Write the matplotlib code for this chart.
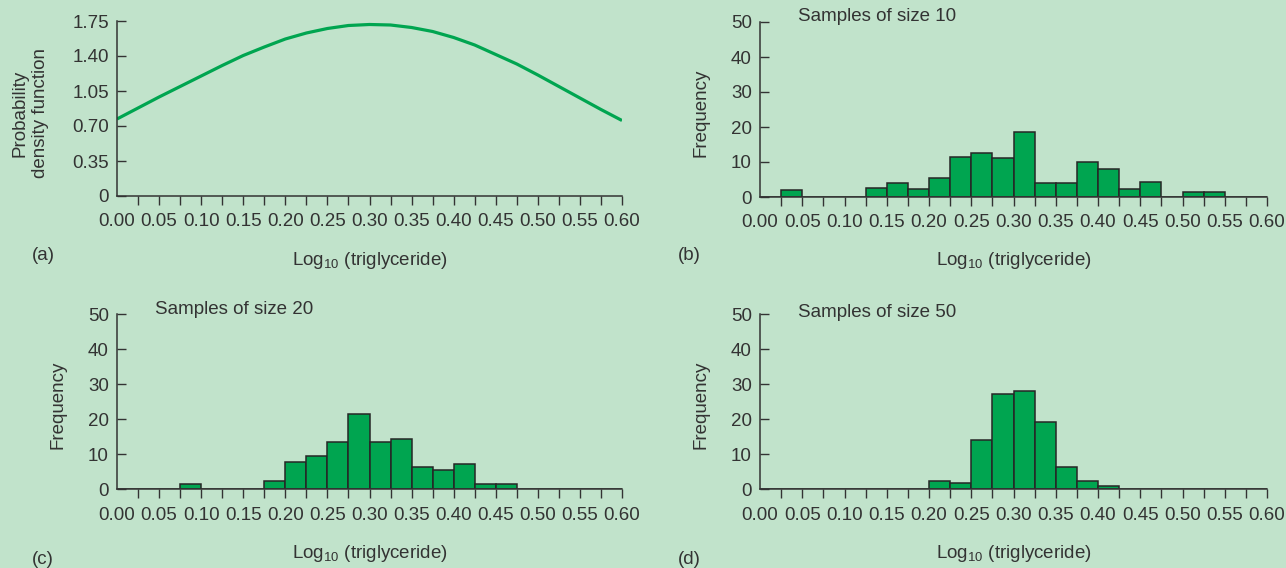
import numpy as np
import matplotlib
matplotlib.use("Agg")
import matplotlib.pyplot as plt

plt.rcParams['font.family'] = ['Liberation Sans', 'DejaVu Sans']
plt.rcParams['mathtext.fontset'] = 'custom'
plt.rcParams['mathtext.rm'] = 'Liberation Sans'
plt.rcParams['mathtext.it'] = 'Liberation Sans:italic'

# Крива щільності (a)
pdf_x = [0.000, 0.025, 0.050, 0.075, 0.100, 0.125, 0.150, 0.175, 0.200, 0.225, 0.250, 0.275, 0.300,
         0.325, 0.350, 0.375, 0.400, 0.425, 0.450, 0.475, 0.500, 0.525, 0.550, 0.575, 0.600]
pdf_y = [0.77, 0.88, 0.99, 1.095, 1.20, 1.305, 1.405, 1.49, 1.57, 1.63, 1.675, 1.705, 1.715,
         1.71, 1.685, 1.645, 1.585, 1.51, 1.415, 1.32, 1.21, 1.095, 0.98, 0.865, 0.755]

# Гістограми: ширина класу 0.025, від 0.00 до 0.60
bin_edges = np.arange(0, 0.6001, 0.025)
freq_10 = [0, 1.9, 0, 0, 0, 2.5, 4.0, 2.3, 5.4, 11.3, 12.5, 11.2, 18.5, 4.0, 4.0, 10.0,
           8.1, 2.3, 4.2, 0, 1.3, 1.3, 0, 0]
freq_20 = [0, 0, 0, 1.6, 0, 0, 0, 2.3, 7.8, 9.6, 13.5, 21.4, 13.5, 14.5, 6.4, 5.5,
           7.2, 1.6, 1.6, 0, 0, 0, 0, 0]
freq_50 = [0, 0, 0, 0, 0, 0, 0, 0, 2.5, 1.7, 14.2, 27.2, 28.2, 19.1, 6.4, 2.4,
           1.0, 0, 0, 0, 0, 0, 0, 0]

x_major = np.arange(0, 0.6001, 0.05)
x_minor = np.arange(0.025, 0.6001, 0.05)
x_labels = ['%.2f' % v for v in x_major]
pdf_ticks = [0, 0.35, 0.70, 1.05, 1.40, 1.75]
pdf_labels = ['0', '0.35', '0.70', '1.05', '1.40', '1.75']
freq_ticks = [0, 10, 20, 30, 40, 50]

bg = '#c1e3cb'
green = '#00a550'
dark = '#333333'
fs = 13.5

fig = plt.figure(figsize=(12.86, 5.68), dpi=100, facecolor=bg)
H = 568.0
W = 1286.0


def make_ax(left, bottom_px, width):
    return fig.add_axes([left / W, (H - bottom_px) / H, width / W, 175 / H], facecolor=bg)


def style(ax):
    for s in ['top', 'right']:
        ax.spines[s].set_visible(False)
    for s in ['left', 'bottom']:
        ax.spines[s].set_color(dark)
        ax.spines[s].set_linewidth(1.1)
    ax.set_xlim(0, 0.6)
    ax.set_xticks(x_major)
    ax.set_xticklabels(x_labels)
    ax.set_xticks(x_minor, minor=True)
    ax.tick_params(axis='x', which='both', direction='out', length=6.5, width=1.0,
                   color=dark, labelsize=fs, labelcolor=dark, pad=6)
    ax.tick_params(axis='y', direction='in', length=6.2, width=1.0, color=dark,
                   labelsize=fs, labelcolor=dark, pad=5.8)
    ax.xaxis.get_major_ticks()[0].tick1line.set_visible(False)
    ax.set_xlabel(r'Log$_{10}$ (triglyceride)', fontsize=fs, color=dark)
    ax.xaxis.label.set_va('center')


ax_a = make_ax(117, 196, 505)
ax_b = make_ax(760, 197, 507)
ax_c = make_ax(117, 489.3, 505)
ax_d = make_ax(760, 489.3, 507)

# (a)
ax_a.plot(pdf_x, pdf_y, color=green, lw=2.3, solid_capstyle='butt')
ax_a.set_ylim(0, 1.75)
ax_a.set_yticks(pdf_ticks)
ax_a.set_yticklabels(pdf_labels)
style(ax_a)
ax_a.set_ylabel('Probability\ndensity function', fontsize=fs, color=dark, linespacing=1.25)
ax_a.yaxis.label.set_va('center')
ax_a.yaxis.set_label_coords(-0.172, 0.474)
ax_a.xaxis.set_label_coords(0.5, -0.366)

# (b), (c), (d)
panels = [(ax_b, freq_10, 'Samples of size 10', 1.029),
          (ax_c, freq_20, 'Samples of size 20', 1.025),
          (ax_d, freq_50, 'Samples of size 50', 1.008)]
for ax, freq, title, ty in panels:
    ax.bar(bin_edges[:-1], freq, width=0.025, align='edge', color=green,
           edgecolor='#262626', linewidth=1.1)
    ax.set_ylim(0, 50)
    ax.set_yticks(freq_ticks)
    style(ax)
    ax.set_ylabel('Frequency', fontsize=fs, color=dark)
    ax.yaxis.label.set_va('center')
    ax.yaxis.set_label_coords(-0.117, 0.48)
    ax.xaxis.set_label_coords(0.5, -0.365)
    ax.text(0.045, ty, title, transform=ax.get_xaxis_transform(), fontsize=fs,
            color=dark, ha='left', va='center')

fig.text(43 / W, 1 - 255 / H, '(a)', fontsize=fs, color=dark, ha='center', va='center')
fig.text(689 / W, 1 - 255 / H, '(b)', fontsize=fs, color=dark, ha='center', va='center')
fig.text(43 / W, 1 - 559 / H, '(c)', fontsize=fs, color=dark, ha='center', va='center')
fig.text(689 / W, 1 - 560 / H, '(d)', fontsize=fs, color=dark, ha='center', va='center')

fig.savefig('out.png', dpi=100, facecolor=bg)
